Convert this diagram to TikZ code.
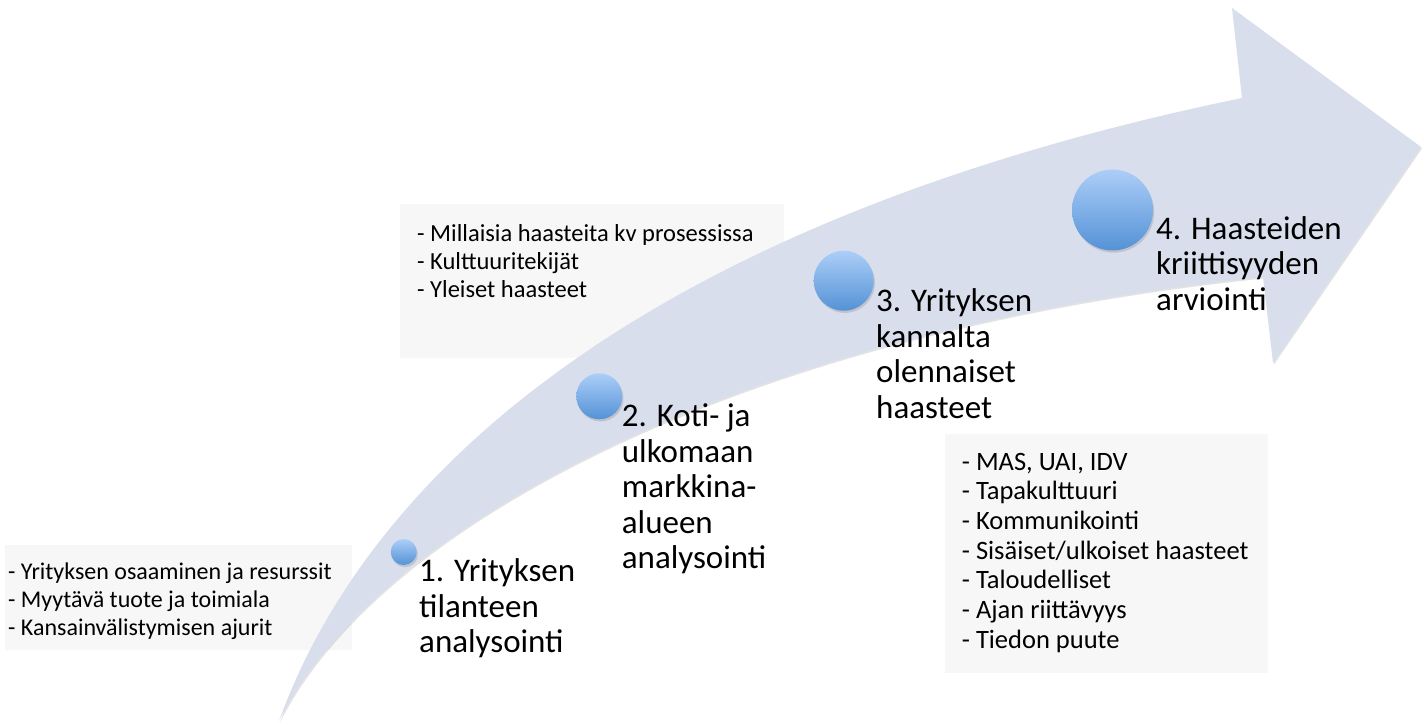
\documentclass[tikz,border=0pt]{standalone}
\usepackage{fontspec}
\setmainfont{Carlito}
\usetikzlibrary{shadows}
\definecolor{arrowfill}{RGB}{217,222,236}
\definecolor{boxfill}{RGB}{247,247,247}
\definecolor{balltop}{RGB}{172,206,248}
\definecolor{ballbottom}{RGB}{84,146,214}
\begin{document}
\begin{tikzpicture}[x=1pt,y=-1pt,
  listbox/.style={fill=boxfill, draw=none},
  % multi-line nodes sit on the baseline of their last line
  listtext/.style={anchor=base west, align=left, inner sep=0pt},
  steplabel/.style={anchor=base west, align=left, inner sep=0pt,
    font=\fontsize{33}{35.5}\selectfont},
  ball/.style={circle, inner sep=0pt, draw=none,
    top color=balltop, bottom color=ballbottom,
    drop shadow={shadow xshift=1.2pt, shadow yshift=-2.2pt, opacity=0.28}},
  bigarrow/.style={fill=arrowfill,
    drop shadow={shadow xshift=1pt, shadow yshift=-1.5pt, opacity=0.22}}
]
\useasboundingbox (0,0) rectangle (1428,724);
\fill[white] (0,0) rectangle (1428,724);

% background panels for the bullet lists
\fill[listbox] (5,545) rectangle (352,650);
\fill[listbox] (400,204) rectangle (784,358);

\node[listtext, font=\fontsize{24}{28}\selectfont] (listA) at (8,635)
  {- Yrityksen osaaminen ja resurssit\\
   - Myytävä tuote ja toimiala\\
   - Kansainvälistymisen ajurit};
\node[listtext, font=\fontsize{24.5}{27.8}\selectfont] (listB) at (417,297.3)
  {- Millaisia haasteita kv prosessissa\\
   - Kulttuuritekijät\\
   - Yleiset haasteet};

% the curved process arrow
\fill[bigarrow] (279,721) .. controls (370,470) and (650,220) .. (1242,98)
  -- (1232,8) -- (1421,147) -- (1273,363) -- (1263,277)
  .. controls (750,330) and (380,520) .. (279,721) -- cycle;

% right panel
\fill[listbox] (945,434) rectangle (1268,673);
\node[listtext, font=\fontsize{26.5}{29.7}\selectfont] (listC) at (961.7,648.2)
  {- MAS, UAI, IDV\\
   - Tapakulttuuri\\
   - Kommunikointi\\
   - Sisäiset/ulkoiset haasteet\\
   - Taloudelliset\\
   - Ajan riittävyys\\
   - Tiedon puute};

% milestones
\node[ball, minimum size=26pt] (b1) at (403.7,552) {};
\node[ball, minimum size=46pt] (b2) at (599.3,396.3) {};
\node[ball, minimum size=60pt] (b3) at (843.7,280.7) {};
\node[ball, minimum size=81pt] (b4) at (1112.5,210) {};

\node[steplabel] (s1) at (419,652.7) {1. Yrityksen\\tilanteen\\analysointi};
\node[steplabel] (s2) at (621.7,568.7) {2. Koti- ja\\ulkomaan\\markkina-\\alueen\\analysointi};
\node[steplabel] (s3) at (876,418.2) {3. Yrityksen\\kannalta\\olennaiset\\haasteet};
\node[steplabel] (s4) at (1156,310) {4. Haasteiden\\kriittisyyden\\arviointi};
\end{tikzpicture}
\end{document}
